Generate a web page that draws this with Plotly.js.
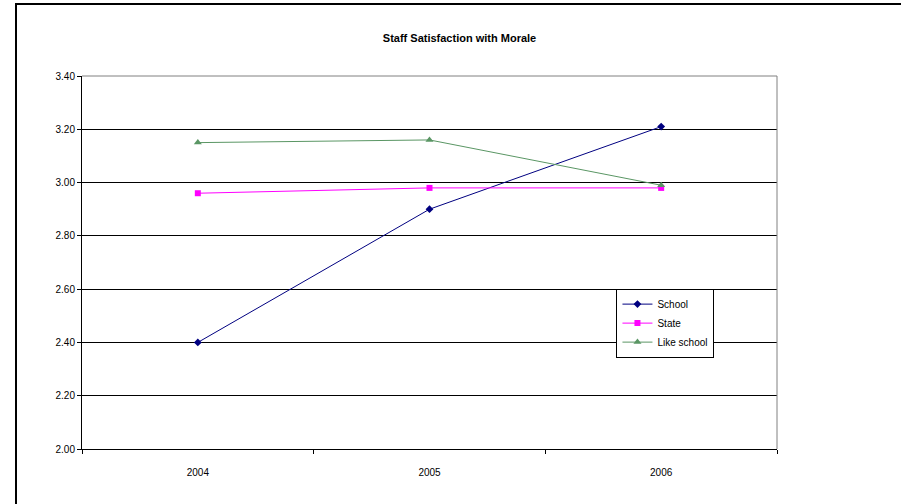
<!DOCTYPE html>
<html>
<head>
<meta charset="utf-8">
<script src="https://cdn.plot.ly/plotly-3.0.1.min.js"></script>
<style>
  html, body { margin: 0; padding: 0; background: #fff; }
  #wrap { position: relative; width: 901px; height: 504px; overflow: hidden; }
  #chart { width: 901px; height: 504px; }
  #frame {
    position: absolute; left: 15px; top: 3px; right: -10px; bottom: -10px;
    border-left: 2px solid #000; border-top: 2px solid #000;
    pointer-events: none;
  }
</style>
</head>
<body>
<div id="wrap">
  <div id="chart"></div>
  <div id="frame"></div>
</div>
<script>
// Survey years and mean satisfaction scores
const years = ['2004', '2005', '2006'];
const school = [2.40, 2.90, 3.21];
const state = [2.96, 2.98, 2.98];
const likeSchool = [3.15, 3.16, 2.99];
const yTicks = [2.0, 2.2, 2.4, 2.6, 2.8, 3.0, 3.2, 3.4];

const font = 'Arial, "Liberation Sans", sans-serif';

const traces = [
  { name: 'School', x: years, y: school, type: 'scatter', mode: 'lines+markers',
    line: { color: '#000080', width: 1 },
    marker: { symbol: 'diamond', size: 6, color: '#000080' } },
  { name: 'State', x: years, y: state, type: 'scatter', mode: 'lines+markers',
    line: { color: '#ff00ff', width: 1 },
    marker: { symbol: 'square', size: 6, color: '#ff00ff' } },
  { name: 'Like school', x: years, y: likeSchool, type: 'scatter', mode: 'lines+markers',
    line: { color: '#5a9664', width: 1 },
    marker: { symbol: 'triangle-up', size: 7, color: '#5a9664' } }
];

const layout = {
  width: 901, height: 504,
  margin: { l: 82, r: 124, t: 76, b: 55, pad: 0 },
  paper_bgcolor: '#fff', plot_bgcolor: '#fff',
  font: { family: font, size: 10, color: '#000' },
  title: {
    text: '<b>Staff Satisfaction with Morale</b>',
    font: { family: font, size: 11, color: '#000' },
    x: 0.51, xanchor: 'center', y: 0.925, yanchor: 'middle'
  },
  xaxis: {
    type: 'category', tickson: 'boundaries',
    range: [-0.5, years.length - 0.5],
    ticks: 'outside', ticklen: 4, tickcolor: '#000', tickwidth: 1,
    showline: true, linecolor: '#000', linewidth: 1,
    showgrid: false, zeroline: false,
    ticklabelstandoff: 14,
    tickfont: { family: font, size: 10, color: '#000' }
  },
  yaxis: {
    range: [2.0, 3.4], tickvals: yTicks,
    ticktext: yTicks.map(v => v.toFixed(2)),
    ticks: 'outside', ticklen: 4, tickcolor: '#000', tickwidth: 1,
    showline: true, linecolor: '#000', linewidth: 1,
    showgrid: true, gridcolor: '#000', gridwidth: 1,
    zeroline: false,
    tickfont: { family: font, size: 10, color: '#000' }
  },
  shapes: [
    // grey plot-area border on the top and right edges
    { type: 'line', xref: 'paper', yref: 'paper', x0: 0, x1: 1, y0: 1, y1: 1,
      line: { color: '#808080', width: 1 }, layer: 'above' },
    { type: 'line', xref: 'paper', yref: 'paper', x0: 1, x1: 1, y0: 0, y1: 1,
      line: { color: '#808080', width: 1 }, layer: 'above' }
  ],
  showlegend: true,
  legend: {
    x: 0.769, y: 0.43, xanchor: 'left', yanchor: 'top',
    bgcolor: '#fff', bordercolor: '#000', borderwidth: 1,
    font: { family: font, size: 10, color: '#000' },
    itemwidth: 30, tracegroupgap: 0
  }
};

Plotly.newPlot('chart', traces, layout, { displayModeBar: false, staticPlot: true });
</script>
</body>
</html>
